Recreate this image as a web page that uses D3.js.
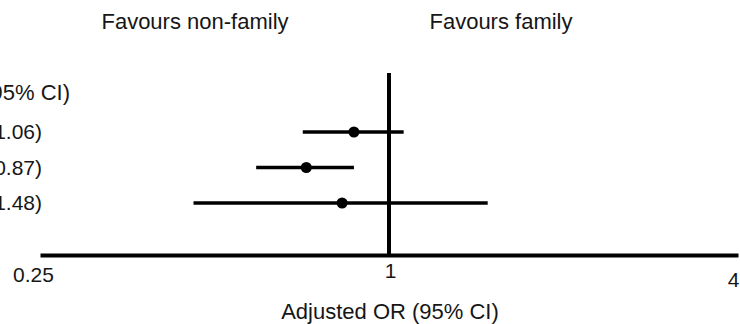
<!DOCTYPE html>
<html>
<head>
<meta charset="utf-8">
<script src="https://cdn.jsdelivr.net/npm/d3@7"></script>
<style>
  html, body { margin: 0; padding: 0; background: #fff; }
  svg { display: block; }
  text { font-family: "Liberation Sans", Arial, sans-serif; fill: #161616; }
</style>
</head>
<body>
<svg id="chart" width="740" height="324"></svg>
<script>
// ---- data ----
const rowLabels = ["0.87 (0.71–1.06)", "0.72 (0.59–0.87)", "0.83 (0.46–1.48)"];
const estimates = [0.87, 0.72, 0.83];
const lowerCI   = [0.71, 0.59, 0.46];
const upperCI   = [1.06, 0.87, 1.48];
const tickValues = [0.25, 1, 4];
const tickLabels = ["0.25", "1", "4"];
const headerLabel = "OR (95% CI)";
const leftNote = "Favours non-family";
const rightNote = "Favours family";
const axisTitle = "Adjusted OR (95% CI)";

// ---- chart ----
const svg = d3.select("#chart");
const fs = 21, fsBig = 22;

const x = d3.scaleLog().base(2).domain([0.25, 4]).range([40, 738]);
const y = d3.scalePoint().domain(d3.range(rowLabels.length)).range([132, 203]);
const axisY = 255;

// reference line at OR = 1
svg.append("line")
  .attr("x1", x(1)).attr("x2", x(1))
  .attr("y1", 73).attr("y2", axisY)
  .attr("stroke", "#000").attr("stroke-width", 4);

// x axis
const axis = d3.axisBottom(x)
  .tickValues(tickValues)
  .tickFormat((d, i) => tickLabels[i])
  .tickSize(0)
  .tickSizeOuter(0)
  .tickPadding(12);

const gAxis = svg.append("g")
  .attr("transform", `translate(0,${axisY})`)
  .call(axis);
gAxis.select(".domain").attr("stroke", "#000").attr("stroke-width", 4);
gAxis.selectAll(".tick text")
  .attr("font-size", fs)
  .attr("font-family", "Liberation Sans, Arial, sans-serif")
  .attr("fill", "#161616")
  .attr("dx", (d, i) => i === 0 ? -7 : (i === tickValues.length - 1 ? -5 : 1))
  .attr("y", (d, i) => i === 0 ? 12 : (i === tickValues.length - 1 ? 17 : 8));

// CI lines
const rows = d3.range(rowLabels.length);
svg.selectAll(".ci").data(rows).join("line")
  .attr("class", "ci")
  .attr("x1", i => x(lowerCI[i])).attr("x2", i => x(upperCI[i]))
  .attr("y1", i => y(i)).attr("y2", i => y(i))
  .attr("stroke", "#000").attr("stroke-width", 3.3);

// point estimates
svg.selectAll(".pt").data(rows).join("circle")
  .attr("class", "pt")
  .attr("cx", i => x(estimates[i]))
  .attr("cy", i => y(i))
  .attr("r", 5.5)
  .attr("fill", "#000");

// left column labels (partly off-screen, as in the reference crop)
svg.append("text")
  .attr("x", 70).attr("y", 92).attr("dy", "0.35em")
  .attr("text-anchor", "end").attr("font-size", fsBig)
  .text(headerLabel);

svg.selectAll(".lbl").data(rows).join("text")
  .attr("class", "lbl")
  .attr("x", 42).attr("y", i => y(i)).attr("dy", "0.35em")
  .attr("text-anchor", "end").attr("font-size", fs)
  .text(i => rowLabels[i]);

// favours notes
svg.append("text")
  .attr("x", 195).attr("y", 29)
  .attr("text-anchor", "middle").attr("font-size", fsBig)
  .text(leftNote);
svg.append("text")
  .attr("x", 501).attr("y", 29)
  .attr("text-anchor", "middle").attr("font-size", fsBig)
  .text(rightNote);

// axis title
svg.append("text")
  .attr("x", 390).attr("y", 319)
  .attr("text-anchor", "middle").attr("font-size", fsBig)
  .text(axisTitle);
</script>
</body>
</html>
